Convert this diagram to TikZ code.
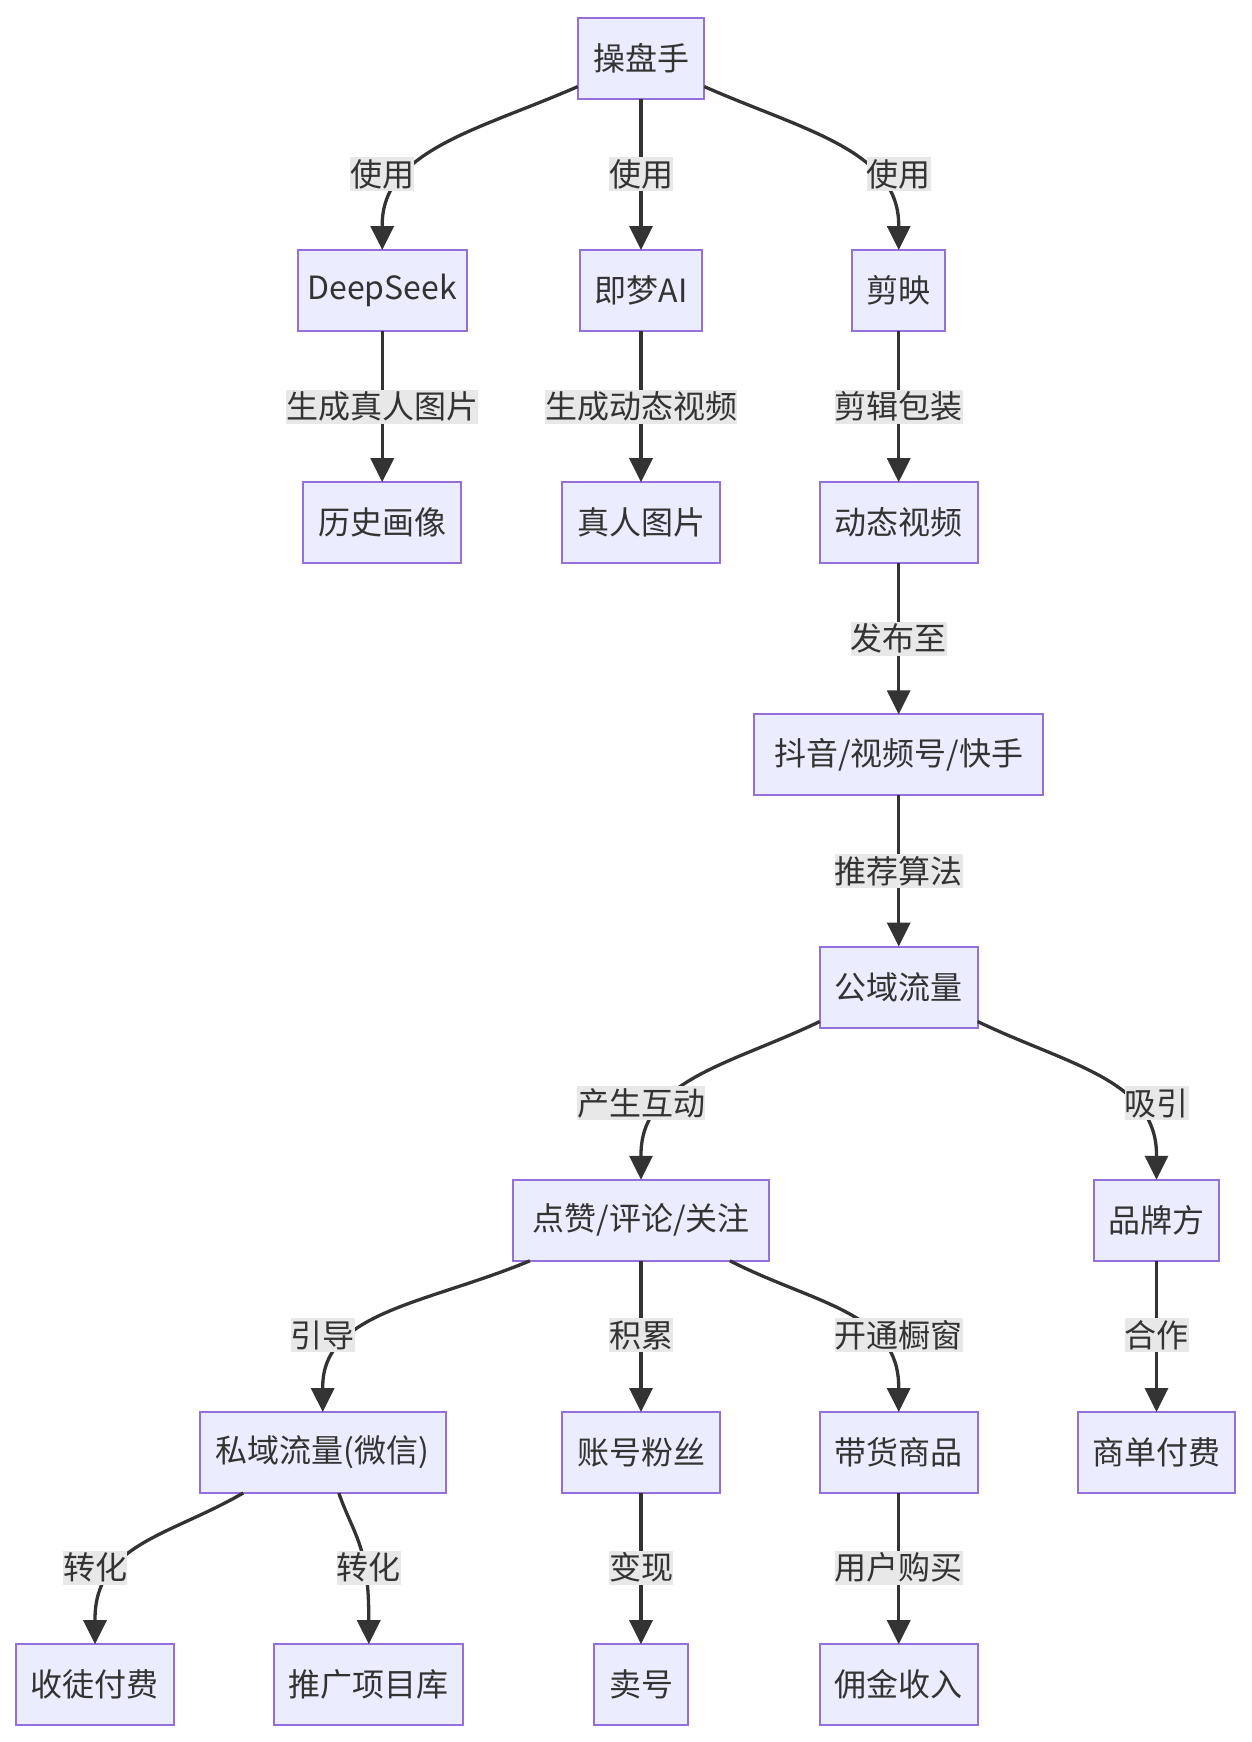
\documentclass[tikz,border=0pt]{standalone}
\usepackage{fontspec}
\setmainfont{Noto Sans CJK SC}
\usetikzlibrary{arrows.meta,calc}
\definecolor{nodefill}{HTML}{ECECFF}
\definecolor{nodeborder}{HTML}{9370DB}
\definecolor{txt}{HTML}{333333}
\definecolor{lblbg}{HTML}{E8E8E8}
\begin{document}
\begin{tikzpicture}[x=0.5pt,y=-0.5pt,
  box/.style={draw=nodeborder, fill=nodefill, line width=1pt, minimum height=40.5pt,
    inner sep=0pt, outer sep=0pt, text=txt, font=\fontsize{16pt}{19pt}\selectfont},
  lbl/.style={fill=lblbg, inner sep=0pt, minimum height=17pt, text=txt,
    font=\fontsize{16pt}{19pt}\selectfont},
  edge/.style={draw=txt, line width=1.65pt, -{Triangle[length=12pt,width=11.5pt]}}
]
\fill[white] (0,0) rectangle (1252,1742);
\useasboundingbox (0,0) rectangle (1252,1742);

% nodes
\node[box, minimum width=63.3pt] (op) at (641,58.3) {操盘手};
\node[box, minimum width=84.4pt] (ds) at (382.2,290.5) {DeepSeek};
\node[box, minimum width=61.1pt] (jm) at (641,290.5) {即梦AI};
\node[box, minimum width=46.7pt] (jy) at (898.7,290.5) {剪映};
\node[box, minimum width=78.9pt] (ls) at (382.2,522.7) {历史画像};
\node[box, minimum width=78.9pt] (zr) at (641,522.7) {真人图片};
\node[box, minimum width=78.9pt] (dt) at (898.7,522.7) {动态视频};
\node[box, minimum width=144.4pt] (dy) at (898.7,754.9) {抖音/视频号/快手};
\node[box, minimum width=78.9pt] (gy) at (898.7,987) {公域流量};
\node[box, minimum width=127.8pt] (dz) at (641,1220.3) {点赞/评论/关注};
\node[box, minimum width=62.8pt] (pp) at (1156.5,1220.3) {品牌方};
\node[box, minimum width=122.8pt] (sy) at (322.7,1452.5) {私域流量(微信)};
\node[box, minimum width=78.9pt] (zf) at (641,1452.5) {账号粉丝};
\node[box, minimum width=78.9pt] (dh) at (898.7,1452.5) {带货商品};
\node[box, minimum width=78.9pt] (sd) at (1156.5,1452.5) {商单付费};
\node[box, minimum width=79.4pt] (st) at (95,1684.7) {收徒付费};
\node[box, minimum width=94.4pt] (tg) at (368.8,1684.7) {推广项目库};
\node[box, minimum width=46.7pt] (mh) at (641,1684.7) {卖号};
\node[box, minimum width=78.9pt] (yj) at (898.7,1684.7) {佣金收入};

% straight edges
\draw[edge] (op.south) -- (jm.north);
\draw[edge] (ds.south) -- (ls.north);
\draw[edge] (jm.south) -- (zr.north);
\draw[edge] (jy.south) -- (dt.north);
\draw[edge] (dt.south) -- (dy.north);
\draw[edge] (dy.south) -- (gy.north);
\draw[edge] (dz.south) -- (zf.north);
\draw[edge] (zf.south) -- (mh.north);
\draw[edge] (dh.south) -- (yj.north);
\draw[edge] (pp.south) -- (sd.north);

% curved edges
\coordinate (s1) at ($(op.south west)+(0,-12.2)$);
\coordinate (s2) at ($(op.south east)+(0,-12.2)$);
\coordinate (s3) at ($(gy.south west)+(0,-6)$);
\coordinate (s4) at ($(gy.south east)+(0,-6)$);
\coordinate (s5) at ($(dz.south west)+(16.7,0)$);
\coordinate (s6) at ($(dz.south east)+(-38.9,0)$);
\coordinate (s7) at ($(sy.south west)+(43.3,0)$);
\coordinate (s8) at ($(sy.south)+(16.1,0)$);

\draw[edge] (s1) .. controls +(-97.75,43) and +(0,-75) .. ($(ds.north)+(0,-25)$) -- (ds.north);
\draw[edge] (s2) .. controls +(97.2,43) and +(0,-75) .. ($(jy.north)+(0,-25)$) -- (jy.north);
\draw[edge] (s3) .. controls +(-89.4,43) and +(0,-75) .. ($(dz.north)+(0,-25)$) -- (dz.north);
\draw[edge] (s4) .. controls +(89.4,43) and +(0,-75) .. ($(pp.north)+(0,-25)$) -- (pp.north);
\draw[edge] (s5) .. controls +(-103.7,43) and +(0,-75) .. ($(sy.north)+(0,-25)$) -- (sy.north);
\draw[edge] (s6) .. controls +(84.4,43) and +(0,-75) .. ($(dh.north)+(0,-25)$) -- (dh.north);
\draw[edge] (s7) .. controls +(-74.2,43) and +(0,-75) .. ($(st.north)+(0,-25)$) -- (st.north);
\draw[edge] (s8) .. controls +(15,43) and +(0,-75) .. ($(tg.north)+(0,-25)$) -- (tg.north);

% edge labels
\node[lbl] (l1) at (382.2,174.4) {使用};
\node[lbl] (l2) at (641,174.4) {使用};
\node[lbl] (l3) at (898.7,174.4) {使用};
\node[lbl] (l4) at (382.2,406.6) {生成真人图片};
\node[lbl] (l5) at (641,406.6) {生成动态视频};
\node[lbl] (l6) at (898.7,406.6) {剪辑包装};
\node[lbl] (l7) at (898.7,638.8) {发布至};
\node[lbl] (l8) at (898.7,871) {推荐算法};
\node[lbl] (l9) at (641,1103.2) {产生互动};
\node[lbl] (l10) at (1156.5,1103.2) {吸引};
\node[lbl] (l11) at (322.7,1335.4) {引导};
\node[lbl] (l12) at (641,1335.4) {积累};
\node[lbl] (l13) at (898.7,1335.4) {开通橱窗};
\node[lbl] (l18) at (1156.5,1335.4) {合作};
\node[lbl] (l14) at (95,1567.6) {转化};
\node[lbl] (l15) at (368.8,1567.6) {转化};
\node[lbl] (l16) at (641,1567.6) {变现};
\node[lbl] (l17) at (898.7,1567.6) {用户购买};
\end{tikzpicture}
\end{document}
